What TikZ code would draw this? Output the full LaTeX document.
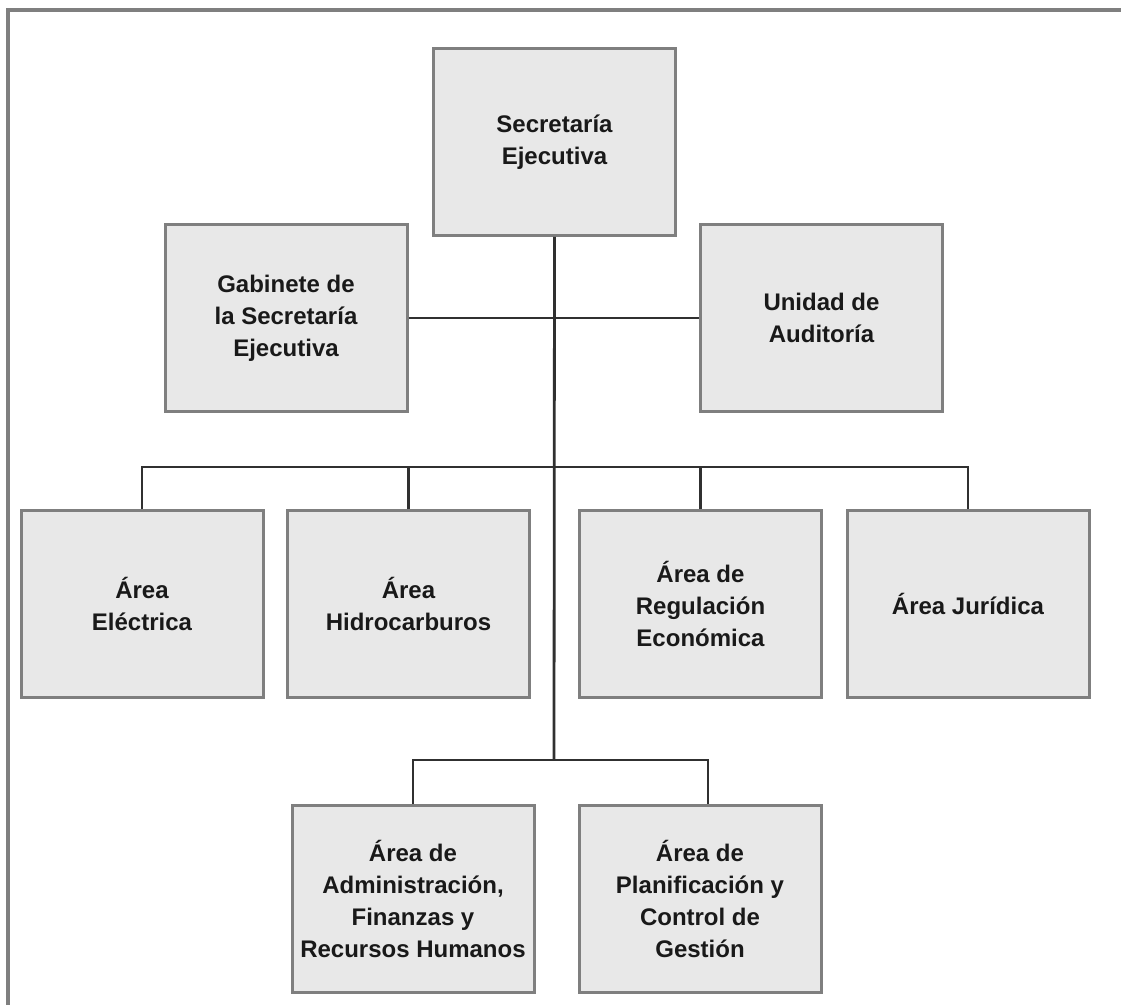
\documentclass[tikz,border=0pt]{standalone}
\usepackage{fontspec}
\setmainfont{Liberation Sans}
\usepackage{tikz}

\definecolor{boxfill}{HTML}{E8E8E8}
\definecolor{boxline}{HTML}{7F7F7F}
\definecolor{linkline}{HTML}{303030}

\tikzset{
    unidad/.style={draw=boxline, fill=boxfill, line width=2.25pt,
        minimum width=181.5pt, minimum height=140.25pt, inner sep=2pt,
        align=center, text=black!90,
        font=\bfseries\fontsize{18}{24}\selectfont},
    enlace/.style={draw=linkline, line width=2.1pt}
}

\begin{document}
\begin{tikzpicture}[x=0.75pt, y=-0.75pt]
                \useasboundingbox (0,0) rectangle (1121,1005);
                \draw [boxline, line width=3pt] (8,1005) -- (8,10) -- (1121,10);

                \node [unidad] (sec) at (554.5,142) {Secretaría\\Ejecutiva};
                \node [unidad] (gab) at (286,318) {Gabinete de\\la Secretaría\\Ejecutiva};
                \node [unidad] (aud) at (821.5,318) {Unidad de\\Auditoría};
                \node [unidad] (ele) at (142,604) {Área\\Eléctrica};
                \node [unidad] (hid) at (408.5,604) {Área\\Hidrocarburos};
                \node [unidad] (reg) at (700.5,604) {Área de\\Regulación\\Económica};
                \node [unidad] (jur) at (968,604) {Área Jurídica};
                \node [unidad] (adm) at (413,899) {Área de\\Administración,\\Finanzas y\\Recursos Humanos};
                \node [unidad] (pla) at (700,899) {Área de\\Planificación y\\Control de\\Gestión};

                \coordinate (bus1) at (554,467);
                \coordinate (bus2) at (554,760);

                \draw [enlace] (sec.south) -- (bus2);
                \draw [enlace] (gab.east) -- (aud.west);
                \draw [enlace] (ele.north) |- (bus1) -| (jur.north);
                \draw [enlace] (hid.north) |- (bus1);
                \draw [enlace] (reg.north) |- (bus1);
                \draw [enlace] (adm.north) |- (bus2) -| ([xshift=6pt]pla.north);
            \end{tikzpicture}
\end{document}
